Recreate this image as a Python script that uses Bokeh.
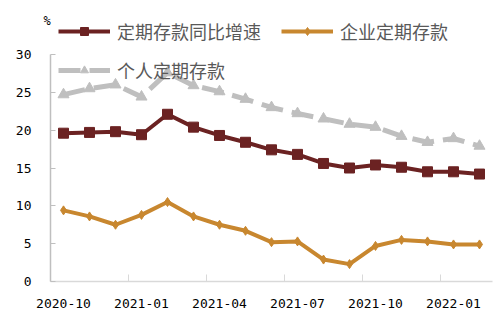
from bokeh.plotting import figure
from bokeh.models import Range1d, FixedTicker, Legend, LegendItem, Title
from bokeh.embed import file_html
from bokeh.resources import INLINE

months = ["2020-10", "2020-11", "2020-12", "2021-01", "2021-02", "2021-03",
          "2021-04", "2021-05", "2021-06", "2021-07", "2021-08", "2021-09",
          "2021-10", "2021-11", "2021-12", "2022-01", "2022-02"]
total_yoy = [19.6, 19.7, 19.8, 19.4, 22.1, 20.4, 19.3, 18.4, 17.4, 16.8,
             15.6, 15.0, 15.4, 15.1, 14.5, 14.5, 14.2]
corporate = [9.4, 8.6, 7.5, 8.8, 10.5, 8.6, 7.5, 6.7, 5.2, 5.3,
             2.9, 2.3, 4.7, 5.5, 5.3, 4.9, 4.9]
personal = [24.7, 25.5, 26.0, 24.4, 27.6, 25.9, 25.1, 24.1, 23.0, 22.2,
            21.5, 20.8, 20.4, 19.2, 18.4, 18.9, 17.9]
y_ticks = [0, 5, 10, 15, 20, 25, 30]
names = ["定期存款同比增速", "企业定期存款", "个人定期存款"]
unit = "%"

x = list(range(len(months)))
label_idx = list(range(0, len(months), 3))
boundaries = [i - 0.5 for i in label_idx[1:]]

RED = "#6B2222"
ORANGE = "#C8872F"
GRAY = "#BFBFBF"

# frame extends to the top of the canvas so the legend fits inside it;
# the value 30 still sits at the same pixel as in the reference
TOP_BORDER = 6
FRAME_H = 322 - 41 - TOP_BORDER
AXIS_H = 281 - 54
y_top = y_ticks[-1] * FRAME_H / AXIS_H

p = figure(width=502, height=322, output_backend="svg", toolbar_location=None,
           x_range=Range1d(-0.5, len(months) - 0.5), y_range=Range1d(0, y_top),
           min_border_left=50, min_border_right=10, min_border_top=TOP_BORDER,
           min_border_bottom=41)
p.outline_line_color = None
p.xgrid.visible = False
p.ygrid.visible = False

r1 = p.line(x, total_yoy, line_color=RED, line_width=4)
m1 = p.scatter(x, total_yoy, marker="square", size=10, fill_color=RED, line_color=RED)
r2 = p.line(x, corporate, line_color=ORANGE, line_width=4)
m2 = p.scatter(x, corporate, marker="diamond", size=9, fill_color=ORANGE, line_color=ORANGE)
r3 = p.line(x, personal, line_color=GRAY, line_width=5, line_dash="22 9")
m3 = p.scatter(x, personal, marker="triangle", size=11, fill_color=GRAY, line_color=GRAY)

xa = p.xaxis[0]
xa.ticker = FixedTicker(ticks=label_idx, minor_ticks=boundaries)
xa.major_label_overrides = {i: months[i] for i in label_idx}
xa.major_tick_in = 0
xa.major_tick_out = 0
xa.minor_tick_in = 7
xa.minor_tick_out = 0
xa.minor_tick_line_color = "#D9D9D9"
xa.minor_tick_line_width = 1
xa.axis_line_color = "#D9D9D9"
xa.axis_line_width = 1.5
xa.major_label_standoff = 17
xa.major_label_text_font = "DejaVu Sans Mono"
xa.major_label_text_font_size = "13px"
xa.major_label_text_color = "#000000"

ya = p.yaxis[0]
ya.ticker = FixedTicker(ticks=y_ticks)
ya.bounds = (y_ticks[0], y_ticks[-1])
ya.major_tick_in = 5
ya.major_tick_out = 0
ya.minor_tick_line_color = None
ya.major_tick_line_color = "#BFBFBF"
ya.axis_line_color = "#BFBFBF"
ya.axis_line_width = 1.5
ya.major_label_standoff = 19
ya.major_label_text_font = "DejaVu Sans Mono"
ya.major_label_text_font_size = "13px"
ya.major_label_text_color = "#000000"

# unit label, drawn as a title just left of the plot area's top-left corner
p.add_layout(Title(text=unit, align="left", offset=-7, standoff=-43,
                   text_font="DejaVu Sans Mono", text_font_size="12px",
                   text_font_style="normal", text_color="#000000"), "above")

legend = Legend(items=[LegendItem(label=names[0], renderers=[r1, m1]),
                       LegendItem(label=names[1], renderers=[r2, m2]),
                       LegendItem(label=names[2], renderers=[r3, m3])],
                location=(8, 198), orientation="horizontal", ncols=2,
                padding=0, margin=0, spacing=13, glyph_width=52,
                glyph_height=20, label_height=20, label_width=151,
                label_standoff=7,
                label_text_font="Noto Sans CJK SC", label_text_font_size="18px",
                label_text_color="#595959",
                background_fill_alpha=0, border_line_alpha=0)
p.add_layout(legend, "center")

open("out.html", "w").write(file_html(p, INLINE))
